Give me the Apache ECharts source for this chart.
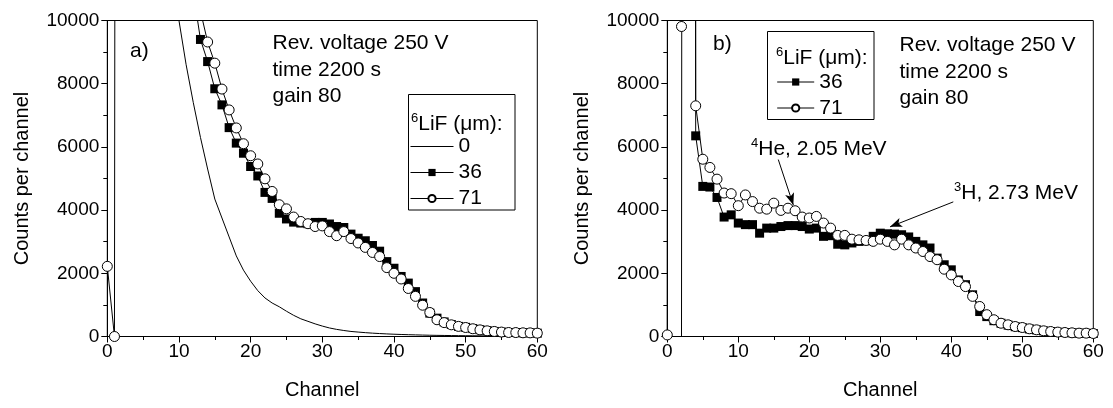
<!DOCTYPE html>
<html><head><meta charset="utf-8">
<script src="https://cdn.jsdelivr.net/npm/echarts@6/dist/echarts.min.js"></script>
<style>html,body{margin:0;padding:0;background:#fff}#c{width:1113px;height:408px}</style>
</head><body><div id="c"></div>
<script>
// ---- data ----
const channels = [0,1,2,3,4,5,6,7,8,9,10,11,12,13,14,15,16,17,18,19,20,21,22,23,24,25,26,27,28,29,30,
  31,32,33,34,35,36,37,38,39,40,41,42,43,44,45,46,47,48,49,50,51,52,53,54,55,56,57,58,59,60];
const xTicks = [0,10,20,30,40,50,60];
const yTicks = [0,2000,4000,6000,8000,10000];

// panel a) 6LiF thickness 0, 36, 71 um
const a_0um = [null,null,150000,80000,50000,35000,26000,19500,15500,12300,
  10000,8600,7400,6300,5300,4350,3750,3150,2550,2100,
  1750,1450,1220,1060,940,800,670,560,480,400,
  330,270,225,190,160,140,122,106,93,82,
  72,64,57,51,45,40,36,33,30,27,
  25,23,21,19,17,16,14,13,12,11,
  10];
const a_36um = [null,null,150000,100000,70000,50000,38000,30000,24000,19000,
  15500,13000,10900,9400,8700,7840,7330,6610,6120,5800,
  5380,5080,4560,4370,3900,3720,3620,3590,3570,3610,
  3610,3560,3480,3450,3240,3110,3030,2880,2700,2370,
  2160,1900,1690,1420,1060,740,580,460,380,320,
  290,250,215,185,160,140,128,125,115,115,
  105];
const a_71um = [2220,0,200000,120000,80000,55000,40000,30000,23000,18000,
  14500,12700,11500,10300,9320,8650,7830,7170,6600,6100,
  5720,5460,4990,4590,4170,4040,3780,3640,3570,3480,
  3500,3320,3190,3320,3100,2960,2820,2660,2530,2180,
  2000,1820,1520,1270,990,760,530,440,370,320,
  285,245,210,180,160,140,127,125,117,115,
  106];

// panel b) 6LiF thickness 36, 71 um
const b_36um = [null,null,0,300000,6350,4750,4730,4400,3780,3850,
  3590,3540,3540,3270,3430,3430,3480,3510,3510,3480,
  3400,3430,3170,3190,2920,2900,2960,3010,3030,3170,
  3270,3250,3240,3220,3150,3010,2900,2800,2480,2270,
  2110,1790,1640,1320,790,630,500,420,360,310,
  280,240,210,178,155,137,125,115,105,105,
  95];
const b_71um = [50,300000,9810,300000,7300,5610,5350,4980,4540,4520,
  4140,4480,4270,4060,4030,4220,3990,4060,3980,3780,
  3750,3800,3590,3430,3200,3200,3080,3060,3040,3010,
  3080,3010,2900,3080,2900,2800,2690,2530,2430,2130,
  1950,1740,1580,1270,950,690,530,420,370,316,
  285,244,212,180,158,139,127,117,106,106,
  95];

const seriesNames = ['0','36','71'];
const legendTitle = 'LiF (\u03bcm):';
const infoLines = ['Rev. voltage 250 V','time 2200 s','gain 80'];
// annotation arrows in panel b, [channel, counts] from -> to
const heArrow = [[15.63,5600],[17.75,4160]];
const hArrow = [[40.28,4260],[31.37,3470]];

// ---- chart ----
const FONT = 'Liberation Sans, Arial, sans-serif';
const pairs = vals => channels.map((c,i)=>[c, vals[i]]);
const chart = echarts.init(document.getElementById('c'), null, {renderer:'canvas'});

function xAxis(gi){
  return {gridIndex:gi, type:'value', min:0, max:60, interval:10,
    axisLine:{onZero:false, lineStyle:{color:'#000',width:1}},
    axisTick:{length:6, lineStyle:{color:'#000'}},
    minorTick:{show:true, splitNumber:2, length:3.5, lineStyle:{color:'#000'}},
    splitLine:{show:false}, minorSplitLine:{show:false},
    axisLabel:{color:'#000', fontSize:19, fontFamily:FONT, margin:6,
      formatter: v => xTicks.includes(v) ? String(v) : ''},
    name:'Channel', nameLocation:'middle', nameGap:44,
    nameTextStyle:{color:'#000', fontSize:20, fontFamily:FONT}};
}
function yAxis(gi){
  return {gridIndex:gi, type:'value', min:0, max:10000, interval:2000,
    axisLine:{show:true, lineStyle:{color:'#000',width:1}},
    axisTick:{show:true, length:6, lineStyle:{color:'#000'}},
    minorTick:{show:true, splitNumber:2, length:4, lineStyle:{color:'#000'}},
    splitLine:{show:false}, minorSplitLine:{show:false},
    axisLabel:{color:'#000', fontSize:19, fontFamily:FONT, margin:8,
      formatter: v => yTicks.includes(v) ? String(v) : ''},
    name:'Counts per channel', nameLocation:'middle', nameGap:75, nameRotate:90,
    nameTextStyle:{color:'#000', fontSize:20, fontFamily:FONT}};
}
const lineStyle = {color:'#000', width:1};
function sq(name, vals, xi, sizeFn){
  return {name, type:'line', xAxisIndex:xi, yAxisIndex:xi, data:pairs(vals),
    symbol:'rect', symbolSize: sizeFn || 9, showAllSymbol:true, clip:true,
    lineStyle, itemStyle:{color:'#000', borderColor:'#000', borderWidth:0}, z:3};
}
function ci(name, vals, xi, extra){
  return Object.assign({name, type:'line', xAxisIndex:xi, yAxisIndex:xi, data:pairs(vals),
    symbol:'circle', symbolSize:10, showAllSymbol:true, clip:true,
    lineStyle, itemStyle:{color:'#fff', borderColor:'#000', borderWidth:1}, z:4}, extra||{});
}
const richTitle = {
  s:{fontSize:13, fontFamily:FONT, color:'#000', verticalAlign:'top', lineHeight:14},
  n:{fontSize:21, fontFamily:FONT, color:'#000', lineHeight:24}
};
function txt(x, y, text, size){
  return {type:'text', left:x, top:y, style:{text, font:(size||21)+'px '+FONT, fill:'#000'}, z:10};
}
const plainLineIcon = 'path://M0,0L0.01,0L0.01,9L0,9Z M0,4L43,4L43,5L0,5Z';
const legendCommon = {orient:'vertical', padding:0, itemHeight:9, itemGap:5, selectedMode:false,
  lineStyle:{width:1, color:'#000'},
  textStyle:{color:'#000', fontSize:21, fontFamily:FONT}};
const option = {
  animation:false,
  grid:[
    {left:107.3, top:20.5, width:430, height:316, show:true, borderColor:'#000', borderWidth:1},
    {left:667.3, top:20.5, width:426, height:316, show:true, borderColor:'#000', borderWidth:1}
  ],
  xAxis:[xAxis(0), xAxis(1)],
  yAxis:[yAxis(0), yAxis(1)],
  legend:[
    Object.assign({}, legendCommon, {left:410, top:136, itemWidth:43,
      data:[{name:seriesNames[0], icon:plainLineIcon}, seriesNames[1], seriesNames[2]]}),
    Object.assign({}, legendCommon, {left:776.7, top:71.5, itemWidth:37,
      data:seriesNames.slice(1)})
  ],
  series:[
    {name:seriesNames[0], type:'line', xAxisIndex:0, yAxisIndex:0, data:pairs(a_0um),
      symbol:'none', clip:true, lineStyle, itemStyle:{color:'#000'}, z:2},
    sq(seriesNames[1], a_36um, 0),
    ci(seriesNames[2], a_71um, 0),
    sq(seriesNames[1], b_36um, 1, v => (v[1] === 0 ? 0 : 9)),
    ci(seriesNames[2], b_71um, 1, {markLine:{silent:true, symbol:['none','arrow'], symbolSize:[7,12],
      lineStyle:{color:'#000', width:1, type:'solid'}, label:{show:false},
      data:[[{coord:heArrow[0]},{coord:heArrow[1]}],[{coord:hArrow[0]},{coord:hArrow[1]}]]}})
  ],
  graphic:[
    {type:'rect', shape:{x:408.5, y:94.5, width:106.5, height:115.5}, style:{fill:'none', stroke:'#000', lineWidth:1}, z:9},
    {type:'rect', shape:{x:767.5, y:31.5, width:106.5, height:88}, style:{fill:'none', stroke:'#000', lineWidth:1}, z:9},
    {type:'text', left:411, top:112, style:{text:'{s|6}{n|'+legendTitle+'}', rich:richTitle}, z:10},
    {type:'text', left:776, top:46, style:{text:'{s|6}{n|'+legendTitle+'}', rich:richTitle}, z:10},
    txt(130, 41, 'a)'),
    txt(272.5, 33, infoLines[0]), txt(272.5, 60, infoLines[1]), txt(272.5, 86, infoLines[2]),
    txt(713, 34, 'b)'),
    txt(899.5, 35, infoLines[0]), txt(899.5, 62, infoLines[1]), txt(899.5, 88, infoLines[2]),
    {type:'text', left:751, top:137, style:{text:'{s|4}{n|He, 2.05 MeV}', rich:richTitle}, z:10},
    {type:'text', left:954, top:181, style:{text:'{s|3}{n|H, 2.73 MeV}', rich:richTitle}, z:10}
  ]
};
chart.setOption(option);
</script></body></html>
